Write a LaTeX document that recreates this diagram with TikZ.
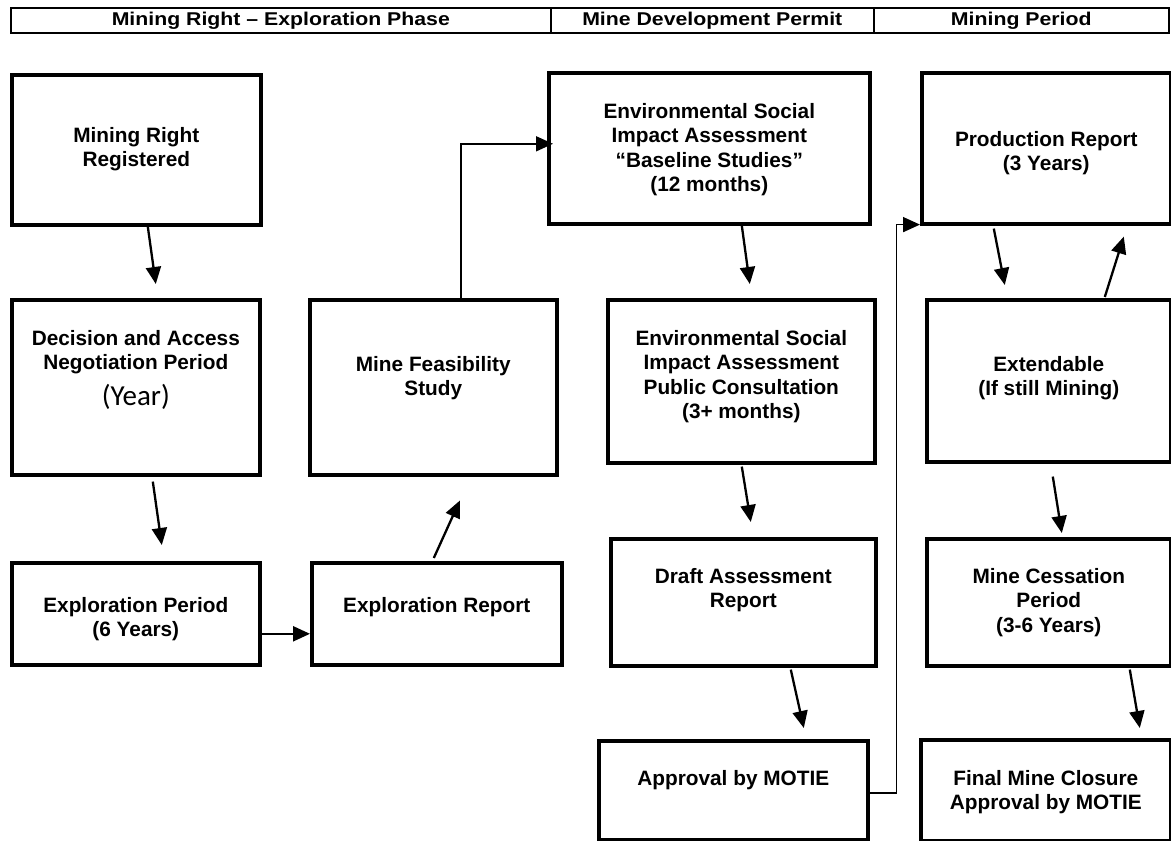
\documentclass[tikz,border=0pt]{standalone}
\usepackage{fontspec}
\setmainfont{Liberation Sans}
\newfontfamily\hdrfont{Liberation Sans}[FakeStretch=1.15]
\newfontfamily\yearfont{Carlito}
\usetikzlibrary{arrows.meta}
\begin{document}
\begin{tikzpicture}[x=1pt,y=-1pt,
  box/.style={draw, line width=3.6pt, rectangle, inner sep=0pt, anchor=north west},
  hcell/.style={draw, line width=1.6pt, rectangle, inner sep=0pt, anchor=north west, minimum height=25pt, font=\hdrfont\fontsize{18.5}{20}\selectfont\bfseries},
  txt/.style={align=center, inner sep=0pt, anchor=north, font=\fontsize{20.8}{24.4}\selectfont\bfseries},
  arr/.style={line width=2.3pt, -{Triangle[length=17pt 0,width=15pt 0]}},
  elbow/.style={line width=1.7pt, -{Triangle[length=17pt 0,width=15pt 0]}},
  elbowstart/.style={line width=3pt}]
\useasboundingbox (0,0) rectangle (1171,841);
% header
\node[hcell, minimum width=540pt] (h1) at (10,7) {Mining Right – Exploration Phase};
\node[hcell, minimum width=323pt] (h2) at (550,7) {Mine Development Permit};
\node[hcell, minimum width=295pt] (h3) at (873,7) {Mining Period};
% boxes
\node[box, minimum width=249pt, minimum height=150pt] (b1) at (10,73) {};
\node[box, minimum width=248pt, minimum height=175pt] (b2) at (10,298) {};
\node[box, minimum width=248pt, minimum height=102pt] (b3) at (10,561) {};
\node[box, minimum width=250pt, minimum height=102pt] (b4) at (310,561) {};
\node[box, minimum width=247pt, minimum height=175pt] (b5) at (308,298) {};
\node[box, minimum width=321pt, minimum height=151pt] (b6) at (547,71) {};
\node[box, minimum width=267pt, minimum height=163pt] (b7) at (606,298) {};
\node[box, minimum width=265pt, minimum height=127pt] (b8) at (609,537) {};
\node[box, minimum width=269pt, minimum height=99pt] (b9) at (597,739) {};
\node[box, minimum width=249pt, minimum height=151pt] (b10) at (920,71) {};
\node[box, minimum width=244pt, minimum height=162pt] (b11) at (925,298) {};
\node[box, minimum width=244pt, minimum height=127pt] (b12) at (925,537) {};
\node[box, minimum width=250pt, minimum height=101pt] (b13) at (919,738) {};
% texts
\node[txt] (t1) at ([yshift=-54]b1.north) {Mining Right\\Registered};
\node[txt] (t2) at ([yshift=-32]b2.north) {Decision and Access\\Negotiation Period\\[9pt]{\yearfont\mdseries\fontsize{29}{34}\selectfont (Year)}};
\node[txt] (t3) at ([yshift=-36]b3.north) {Exploration Period\\(6 Years)};
\node[txt] (t4) at ([yshift=-36]b4.north) {Exploration Report};
\node[txt] (t5) at ([yshift=-58]b5.north) {Mine Feasibility\\Study};
\node[txt] (t6) at ([yshift=-32]b6.north) {Environmental Social\\Impact Assessment\\“Baseline Studies”\\(12 months)};
\node[txt] (t7) at ([yshift=-32]b7.north) {Environmental Social\\Impact Assessment\\Public Consultation\\(3+ months)};
\node[txt] (t8) at ([yshift=-31]b8.north) {Draft Assessment\\Report};
\node[txt] (t9) at ([yshift=-31]b9.north) {Approval by MOTIE};
\node[txt] (t10) at ([yshift=-60]b10.north) {Production Report\\(3 Years)};
\node[txt] (t11) at ([yshift=-58]b11.north) {Extendable\\(If still Mining)};
\node[txt] (t12) at ([yshift=-31]b12.north) {Mine Cessation\\Period\\(3-6 Years)};
\node[txt] (t13) at ([yshift=-32]b13.north) {Final Mine Closure\\Approval by MOTIE};
% connectors
\draw[arr] ([xshift=11.5]b1.south) -- ([xshift=20,yshift=14]b2.north);
\draw[arr] ([xshift=17,yshift=-5]b2.south) -- ([xshift=26,yshift=16]b3.north);
\draw[arr] ([yshift=-20]b3.east) -- ([yshift=-20]b4.west);
\draw[arr] ([xshift=-3,yshift=3]b4.north) -- ([xshift=26.5,yshift=-24]b5.south);
\coordinate (e5) at ([xshift=27.5,yshift=-2]b5.north);
\draw[elbowstart] ([xshift=-71.5,yshift=-2]b5.north) -- (e5);
\draw[elbow] (e5) |- ([xshift=6,yshift=4.5]b6.west);
\draw[arr] ([xshift=32.5]b6.south) -- ([xshift=8.5,yshift=14]b7.north);
\draw[arr] ([xshift=0.5,yshift=-2]b7.south) -- ([xshift=7.5,yshift=15]b8.north);
\draw[arr] ([xshift=47.5,yshift=-2]b8.south) -- ([xshift=70.5,yshift=11]b9.north);
\coordinate (e9) at ([xshift=27,yshift=-2.5]b9.east);
\draw[elbow] ([yshift=-2.5]b9.east) -- (e9) |- ([yshift=1]b10.south west);
\draw[arr] ([xshift=-52.5,yshift=-3]b10.south) -- ([xshift=-44,yshift=13]b11.north);
\draw[arr] ([xshift=56,yshift=1]b11.north) -- ([xshift=77.5,yshift=-11]b10.south);
\draw[arr] ([xshift=4,yshift=-13]b11.south) -- ([xshift=13,yshift=4]b12.north);
\draw[arr] ([xshift=81,yshift=-2]b12.south) -- ([xshift=94,yshift=10]b13.north);
\end{tikzpicture}
\end{document}
